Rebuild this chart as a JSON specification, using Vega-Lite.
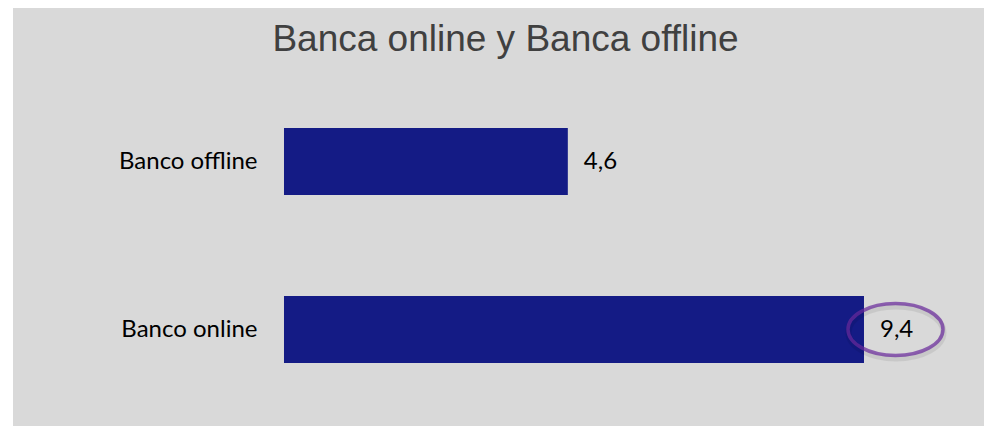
{
  "$schema": "https://vega.github.io/schema/vega-lite/v6.json",
  "width": 971,
  "height": 418,
  "autosize": "none",
  "padding": {"left": 13, "top": 8, "right": 0, "bottom": 0},
  "background": "white",
  "config": {"view": {"stroke": null, "fill": "#d9d9d9"}},
  "title": {
    "text": "Banca online y Banca offline",
    "font": "Liberation Sans",
    "fontSize": 37,
    "fontWeight": "normal",
    "color": "#404040",
    "anchor": "middle",
    "frame": "group",
    "baseline": "alphabetic",
    "offset": -45,
    "dy": 35,
    "dx": 7
  },
  "data": {
    "values": [
      {"canal": "Banco offline", "valor": 4.6, "etiqueta": "4,6"},
      {"canal": "Banco online", "valor": 9.4, "etiqueta": "9,4"}
    ]
  },
  "encoding": {
    "y": {
      "field": "canal",
      "type": "nominal",
      "sort": ["Banco offline", "Banco online"],
      "scale": {"paddingInner": 0.6, "paddingOuter": 0.544, "align": 0.656},
      "axis": {
        "title": null,
        "ticks": false,
        "domain": false,
        "labelPadding": 0,
        "offset": -244,
        "labelFont": "Lato",
        "labelFontSize": 24,
        "labelColor": "#000000"
      }
    },
    "x": {
      "field": "valor",
      "type": "quantitative",
      "scale": {"domain": [-4.392, 11.345], "nice": false, "zero": false},
      "axis": null
    }
  },
  "layer": [
    {
      "mark": {"type": "bar", "color": "#141b85"},
      "encoding": {"x2": {"datum": 0}}
    },
    {
      "mark": {"type": "text", "align": "left", "baseline": "middle", "dx": 16, "font": "Lato", "fontSize": 24, "color": "#000000"},
      "encoding": {"text": {"field": "etiqueta"}}
    },
    {
      "transform": [{"filter": "datum.canal == 'Banco online'"}],
      "mark": {
        "type": "point",
        "shape": "M-1,0A1,0.547,0,1,1,1,0A1,0.547,0,1,1,-1,0Z",
        "size": 9025,
        "filled": false,
        "stroke": "#000000",
        "strokeOpacity": 0.1,
        "strokeWidth": 6,
        "xOffset": 32,
        "yOffset": 3
      }
    },
    {
      "transform": [{"filter": "datum.canal == 'Banco online'"}],
      "mark": {
        "type": "point",
        "shape": "M-1,0A1,0.547,0,1,1,1,0A1,0.547,0,1,1,-1,0Z",
        "size": 9025,
        "filled": false,
        "stroke": "#6a2a9c",
        "strokeOpacity": 1,
        "strokeWidth": 3.5,
        "xOffset": 31.5
      }
    }
  ]
}
